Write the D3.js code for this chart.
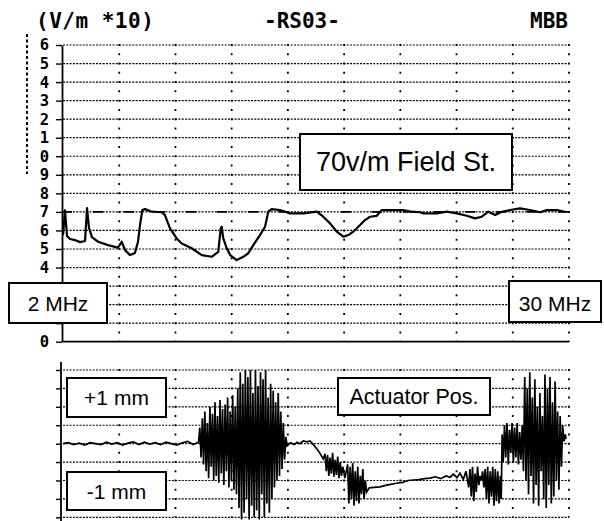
<!DOCTYPE html>
<html>
<head>
<meta charset="utf-8">
<script src="https://cdn.jsdelivr.net/npm/d3@7"></script>
<style>
  body { margin: 0; background: #fff; }
  svg { display: block; }
</style>
</head>
<body>
<div id="chart"></div>
<script>
// Field strength trace (upper plot), frequency in MHz, level in V/m * 10
const fieldMHz = [2.00, 2.11, 2.22, 2.39, 2.66, 2.94, 3.22, 3.33, 3.44, 3.60, 3.94, 4.49, 5.04, 5.25,
    5.43, 5.71, 5.98, 6.15, 6.26, 6.39, 6.54, 6.91, 7.46, 7.64, 7.92, 8.29, 8.57, 9.12, 9.68, 10.23,
    10.59, 10.73, 10.78, 10.87, 11.06, 11.25, 11.61, 11.98, 12.25, 12.53, 12.90, 13.18, 13.36, 13.55,
    14.01, 14.56, 15.30, 16.04, 16.40, 16.78, 17.15, 17.51, 17.79, 18.06, 18.44, 18.71, 18.99, 19.36,
    19.64, 20.10, 20.83, 21.30, 21.76, 21.94, 22.68, 23.23, 23.79, 24.34, 24.80, 25.17, 25.54, 25.91,
    26.28, 26.74, 27.29, 27.84, 28.40, 28.77, 29.32, 29.78];
const fieldLevel = [5.75, 7.09, 5.70, 5.54, 5.48, 5.37, 5.43, 7.21, 6.13, 5.64, 5.39, 5.21, 5.07, 5.39,
    4.94, 4.67, 4.78, 5.39, 6.29, 7.10, 7.15, 7.01, 6.98, 6.83, 6.11, 5.57, 5.30, 5.04, 4.67, 4.58,
    4.85, 6.11, 6.20, 5.57, 5.04, 4.67, 4.40, 4.58, 4.77, 5.21, 5.75, 6.20, 7.01, 7.15,
    7.10, 6.92, 6.92, 7.01, 6.74, 6.38, 5.93, 5.66, 5.75, 5.93, 6.29, 6.56, 6.74, 6.79,
    7.10, 7.10, 7.10, 7.01, 6.98, 6.92, 6.92, 7.01, 6.92, 6.79, 6.65, 6.74, 7.01, 6.83,
    7.01, 7.10, 7.19, 7.10, 6.98, 7.10, 7.10, 7.01];
const refLevel = 7;   // 70 V/m

// Actuator position trace (lower plot), mm
const actMHz = [2.0, 2.3, 2.6, 2.9, 3.2, 3.5, 3.8, 4.1, 4.4, 4.7, 5.0, 5.3, 5.6, 5.9, 6.2, 6.5, 6.8, 7.1,
    7.4, 7.7, 8.0, 8.3, 8.6, 8.9, 9.2, 9.5,
    9.57, 9.64, 9.71, 9.78, 9.85, 9.92, 9.99, 10.06, 10.13, 10.20, 10.27, 10.34, 10.41, 10.48, 10.55,
    10.62, 10.69, 10.76, 10.83, 10.90, 10.97, 11.04, 11.11, 11.18, 11.25, 11.32, 11.39, 11.46, 11.53,
    11.60, 11.67,
    11.74, 11.81, 11.88, 11.95, 12.02, 12.09, 12.16, 12.23, 12.30, 12.37, 12.44, 12.51, 12.58, 12.65,
    12.72, 12.79, 12.86, 12.93, 13.00, 13.07, 13.14, 13.21, 13.28, 13.35, 13.42, 13.49, 13.56,
    13.63, 13.70, 13.77, 13.84, 13.91, 13.98, 14.05, 14.12, 14.19, 14.26, 14.33,
    14.40, 14.6, 14.8, 14.95, 15.1, 15.3, 15.5, 15.67, 15.85, 16.04, 16.2, 16.40,
    16.50, 16.57, 16.64, 16.71, 16.78, 16.85, 16.92, 16.99, 17.06, 17.13, 17.20, 17.27, 17.34, 17.41,
    17.48, 17.6,
    17.75, 17.82, 17.89, 17.96, 18.03, 18.10, 18.17, 18.24, 18.31, 18.38, 18.45, 18.52, 18.59, 18.66,
    18.73, 18.80, 18.95,
    19.2, 19.54, 19.9, 20.2, 20.47, 20.8, 21.1, 21.38, 21.7, 22.0, 22.31, 22.6, 22.9, 23.2, 23.42, 23.6,
    23.8, 23.97, 24.15, 24.3,
    24.45, 24.52, 24.59, 24.66, 24.73, 24.80, 24.87, 24.94, 25.01, 25.08, 25.15, 25.22, 25.29, 25.36,
    25.43, 25.50, 25.57, 25.64, 25.71, 25.78, 25.85, 25.92, 25.99, 26.06, 26.13, 26.20, 26.25,
    26.30, 26.36,
    26.43, 26.50, 26.57, 26.64, 26.71, 26.78, 26.85, 26.92, 26.99, 27.06, 27.13, 27.20, 27.27, 27.34, 27.41,
    27.48, 27.55, 27.62, 27.69, 27.76, 27.83, 27.90, 27.97, 28.04, 28.11, 28.18, 28.25, 28.32, 28.39,
    28.46, 28.53, 28.60, 28.67, 28.74, 28.81, 28.88, 28.95, 29.02, 29.09, 29.16, 29.23, 29.30, 29.37,
    29.44, 29.51, 29.58, 29.65, 29.72, 29.80, 29.83];
const actMM = [0.00, 0.02, -0.02, 0.01, -0.03, 0.02, 0.00, -0.02, 0.03, -0.01, 0.02, -0.03, 0.01, 0.04,
    -0.02, 0.03, -0.01, 0.02, -0.02, 0.03, 0.00, -0.03, 0.02, 0.05, -0.02, 0.03,
    0.35, -0.30, 0.55, -0.45, 0.70, -0.60, 0.45, -0.75, 0.80, -0.50, 0.65, -0.80, 0.90, -0.70, 0.60,
    -0.85, 0.95, -0.65, 0.75, -0.90, 0.85, -0.60, 1.00, -0.95, 0.70, -0.80, 1.05, -1.00, 0.80,
    -1.10, 1.20,
    -1.40, 1.55, -1.65, 1.30, -1.50, 1.60, -1.20, 1.45, -1.65, 1.60, -1.35, 1.10, -1.60, 1.60,
    -1.45, 1.25, -1.65, 1.55, -1.10, 1.40, -1.60, 1.60, -1.30, 1.00, -1.50, 1.30, -1.20,
    1.15, -0.95, 0.90, -0.80, 1.10, -0.70, 0.70, -0.55, 0.45, -0.35, 0.15,
    -0.05, 0.02, -0.02, 0.03, 0.00, 0.06, 0.04, 0.06, -0.02, -0.11, -0.20, -0.33,
    -0.22, -0.60, -0.25, -0.70, -0.30, -0.65, -0.20, -0.72, -0.35, -0.68, -0.28, -0.75, -0.40, -0.70,
    -0.50, -0.75,
    -0.45, -1.30, -0.50, -1.20, -0.42, -1.35, -0.60, -1.25, -0.50, -1.30, -0.70, -1.10, -0.55, -1.20,
    -0.80, -1.05, -0.96,
    -0.95, -0.94, -0.90, -0.88, -0.86, -0.84, -0.80, -0.79, -0.78, -0.76, -0.75, -0.72, -0.76, -0.70,
    -0.73, -0.66, -0.74, -0.64, -0.78, -0.60,
    -0.95, -0.55, -1.15, -0.50, -1.25, -0.65, -1.05, -0.50, -0.90, -0.70, -0.80, -0.60, -0.95, -0.55,
    -1.20, -0.50, -1.30, -0.60, -1.15, -0.50, -1.35, -0.55, -1.25, -0.60, -1.30, -0.70, -1.20,
    0.20, -0.40,
    0.40, -0.30, 0.45, -0.45, 0.30, -0.20, 0.45, -0.40, 0.35, -0.30, 0.45, -0.45, 0.25, -0.35, 0.40,
    -0.60, 1.45, -0.80, 1.20, -1.10, 1.55, -0.70, 1.00, -1.30, 1.40, -0.90, 0.80, -1.35, 1.10,
    -0.60, 0.60, -1.20, 1.50, -1.40, 1.20, -0.90, 1.45, -1.30, 0.90, -1.15, 1.35, -0.80, 0.70,
    -1.00, 0.60, -0.50, 0.40, 0.05, 0.20, 0.10];

// Axis labels (level 0..16 shows the last digit only)
const levelLabels = ["0", "1", "2", "3", "4", "5", "6", "7", "8", "9", "0", "1", "2", "3", "4", "5", "6"];
const unitLabel = "(V/m *10)";
const testLabel = "-RS03-";
const labLabel = "MBB";
const startLabel = "2 MHz";
const stopLabel = "30 MHz";
const fieldLabel = "70v/m Field St.";
const plusLabel = "+1 mm";
const minusLabel = "-1 mm";
const actLabel = "Actuator Pos.";

const width = 604, height = 521;
const mono = "'DejaVu Sans Mono', monospace";
const sans = "'Liberation Sans', Arial, sans-serif";

const svg = d3.select("#chart")
    .append("svg")
    .attr("width", width)
    .attr("height", height);

const x = d3.scaleLinear().domain([2, 30]).range([63, 569]);
const yUp = d3.scaleLinear().domain([0, 16]).range([341.7, 45]);
const yLow = d3.scaleLinear().domain([-1.6, 1.6]).range([517.3, 370]);

// vertical grid: 9 equal divisions of the sweep
const gridX = d3.range(10).map(i => x(2 + i * 28 / 9));

function drawGrid(g, rows, yScale, solidBottom) {
    rows.forEach((v, i) => {
        const solid = solidBottom && i === 0;
        g.append("line")
            .attr("x1", 63).attr("x2", 569)
            .attr("y1", yScale(v)).attr("y2", yScale(v))
            .attr("stroke", "#000")
            .attr("stroke-width", solid ? 1.8 : 1.2)
            .attr("stroke-dasharray", solid ? null : "2,1.3");
    });
    const y0 = yScale.range()[0], y1 = yScale.range()[1];
    const half = (y0 - y1) / (rows.length - 1) / 2;
    gridX.slice(1).forEach(gx => {
        g.append("line")
            .attr("x1", gx).attr("x2", gx)
            .attr("y1", y1 - 1).attr("y2", y0)
            .attr("stroke", "#000")
            .attr("stroke-width", 1.8)
            .attr("stroke-dasharray", `2,${half - 2}`);
    });
}

// ---------- upper plot ----------
const upper = svg.append("g");
drawGrid(upper, d3.range(17), yUp, true);

// reference level (dashed)
upper.append("line")
    .attr("x1", 62).attr("x2", 569)
    .attr("y1", yUp(refLevel)).attr("y2", yUp(refLevel))
    .attr("stroke", "#000")
    .attr("stroke-width", 1.8)
    .attr("stroke-dasharray", "10,21");

// levels 1..3 sit behind the "2 MHz" box in the original, so their digits are not shown
const hiddenLevels = [1, 2, 3];
const upAxis = upper.append("g")
    .attr("transform", "translate(62,0)")
    .call(d3.axisLeft(yUp)
        .tickValues(d3.range(17))
        .tickSize(6)
        .tickSizeOuter(0)
        .tickPadding(7)
        .tickFormat(d => hiddenLevels.includes(d) ? "" : levelLabels[d]));
upAxis.select(".domain").attr("stroke-width", 1.8);
upAxis.selectAll("line").attr("stroke-width", 1.4);
upAxis.selectAll("text")
    .attr("font-family", mono)
    .attr("font-size", 15.5)
    .attr("font-weight", "bold")
    .attr("fill", "#000");

// little ruler on the far left
upper.append("line")
    .attr("x1", 27).attr("x2", 27)
    .attr("y1", 34).attr("y2", 174)
    .attr("stroke", "#000")
    .attr("stroke-width", 2)
    .attr("stroke-dasharray", "3,2.5");

const fieldLine = d3.line()
    .x(d => x(d[0]))
    .y(d => yUp(d[1]));

upper.append("path")
    .datum(d3.zip(fieldMHz, fieldLevel))
    .attr("fill", "none")
    .attr("stroke", "#000")
    .attr("stroke-width", 2.2)
    .attr("stroke-linejoin", "round")
    .attr("d", fieldLine);

// header texts
svg.append("text")
    .attr("x", 36).attr("y", 28)
    .attr("font-family", mono).attr("font-size", 21).attr("font-weight", "bold")
    .attr("letter-spacing", 0.5)
    .text(unitLabel);
svg.append("text")
    .attr("x", 264).attr("y", 28)
    .attr("font-family", mono).attr("font-size", 21).attr("font-weight", "bold")
    .text(testLabel);
svg.append("text")
    .attr("x", 530).attr("y", 28)
    .attr("font-family", mono).attr("font-size", 21).attr("font-weight", "bold")
    .text(labLabel);

// ---------- lower plot ----------
const lower = svg.append("g");
drawGrid(lower, d3.range(-1.6, 1.61, 0.4), yLow, false);

const lowAxis = lower.append("g")
    .attr("transform", "translate(61,0)")
    .call(d3.axisLeft(yLow)
        .tickValues(d3.range(-1.6, 1.61, 0.4))
        .tickSize(5)
        .tickSizeOuter(0)
        .tickFormat(""));
lowAxis.select(".domain").attr("stroke-width", 1.8).attr("d", "M0,362V521");
lowAxis.selectAll("line").attr("stroke-width", 1.4);

const actLine = d3.line()
    .x(d => x(d[0]))
    .y(d => yLow(d[1]));

lower.append("path")
    .datum(d3.zip(actMHz, actMM))
    .attr("fill", "none")
    .attr("stroke", "#000")
    .attr("stroke-width", 1.7)
    .attr("stroke-linejoin", "miter")
    .attr("d", actLine);

// ---------- label boxes ----------
function labelBox(x0, y0, w, h, label, size, baseline) {
    svg.append("rect")
        .attr("x", x0).attr("y", y0)
        .attr("width", w).attr("height", h)
        .attr("fill", "#fff")
        .attr("stroke", "#000")
        .attr("stroke-width", 2);
    svg.append("text")
        .attr("x", x0 + w / 2).attr("y", baseline)
        .attr("text-anchor", "middle")
        .attr("font-family", sans)
        .attr("font-size", size)
        .text(label);
}

labelBox(300, 134, 212, 56, fieldLabel, 27, 171);
labelBox(9, 283, 98, 40, startLabel, 21, 311);
labelBox(509, 281, 92, 41, stopLabel, 21, 311);
labelBox(67, 378, 99, 39, plusLabel, 21, 405);
labelBox(67, 472, 99, 38, minusLabel, 21, 499);
labelBox(338, 378, 152, 37, actLabel, 21.5, 404);
</script>
</body>
</html>
